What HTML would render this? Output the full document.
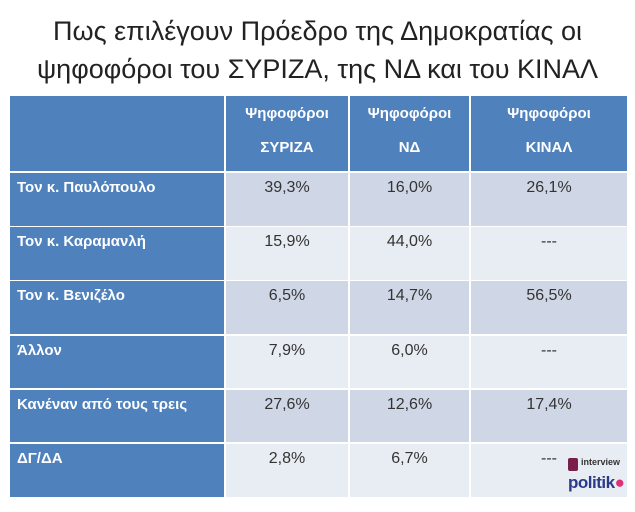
<!DOCTYPE html>
<html><head><meta charset="utf-8"><style>
body{margin:0;width:635px;height:512px;background:#fff;position:relative;overflow:hidden;font-family:"Liberation Sans","DejaVu Sans",sans-serif}
.t{position:absolute;left:0;width:635px;text-align:center;font-size:27px;color:#222}
.c{position:absolute;box-sizing:border-box}
.h{background:#4f81bd;color:#fff;font-weight:bold;font-size:15px;text-align:center;line-height:34px;padding-top:1px}
.f{background:#4f81bd;color:#fff;font-weight:bold;font-size:15px;padding:6px 0 0 7px}
.d{color:#333;font-size:16px;text-align:center;padding-top:6px}
.a{background:#cfd7e6}.b{background:#e8ecf3}
</style></head><body>
<div class="t" style="top:16px">Πως επιλέγουν Πρόεδρο της Δημοκρατίας οι</div>
<div class="t" style="top:54px">ψηφοφόροι του ΣΥΡΙΖΑ, της ΝΔ και του ΚΙΝΑΛ</div>
<div class="c h" style="left:10px;top:96px;width:214px;height:75px"></div>
<div class="c h" style="left:226px;top:96px;width:122px;height:75px">Ψηφοφόροι<br>ΣΥΡΙΖΑ</div>
<div class="c h" style="left:350px;top:96px;width:119px;height:75px">Ψηφοφόροι<br>ΝΔ</div>
<div class="c h" style="left:471px;top:96px;width:156px;height:75px">Ψηφοφόροι<br>ΚΙΝΑΛ</div>
<div id="rows"></div>
<script>
var R=[["Τον κ. Παυλόπουλο","39,3%","16,0%","26,1%"],["Τον κ. Καραμανλή","15,9%","44,0%","---"],["Τον κ. Βενιζέλο","6,5%","14,7%","56,5%"],["Άλλον","7,9%","6,0%","---"],["Κανέναν από τους τρεις","27,6%","12,6%","17,4%"],["ΔΓ/ΔΑ","2,8%","6,7%","---"]];
var X=[[10,214],[226,122],[350,119],[471,156]],h="";
R.forEach(function(r,i){var y=173+i*54.2,cl=i%2?"b":"a";
r.forEach(function(v,j){h+='<div class="c '+(j?'d '+cl:'f')+'" style="left:'+X[j][0]+'px;top:'+y+'px;width:'+X[j][1]+'px;height:52.5px">'+v+'</div>';});});
document.getElementById("rows").innerHTML=h;
</script>
<div class="c" style="left:568px;top:458px;width:10px;height:13px;background:#7a1f4a;border-radius:2px"></div>
<div class="c" style="left:581px;top:457px;font-size:9px;color:#333;font-weight:bold">interview</div>
<div class="c" style="left:568px;top:473px;font-size:17px;font-weight:bold;color:#2a3a8a;letter-spacing:-0.5px">politik<span style="color:#e0307a">●</span></div>
</body></html>
